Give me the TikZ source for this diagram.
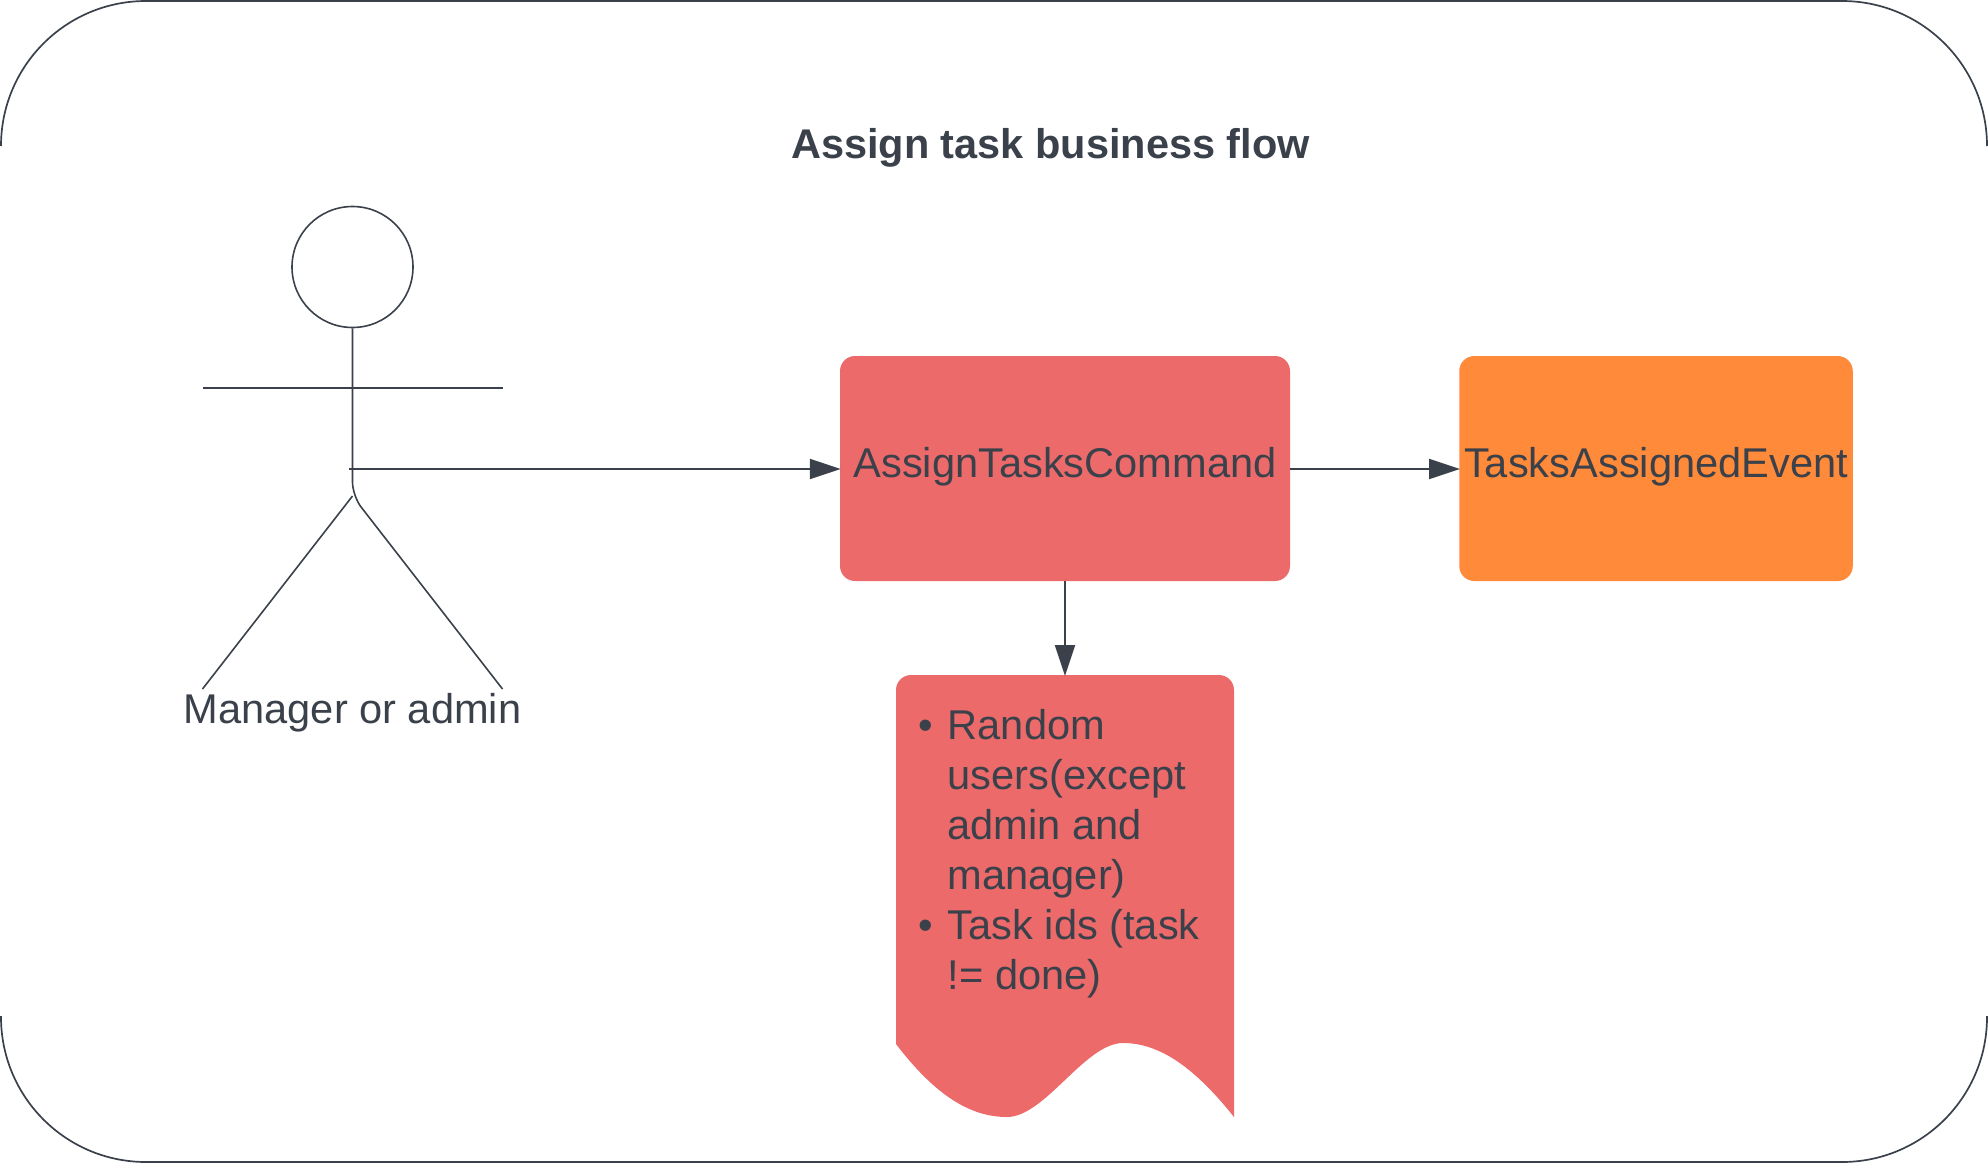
\documentclass[tikz,border=0pt]{standalone}
\usepackage{fontspec}
\setmainfont{Liberation Sans}
\usetikzlibrary{arrows.meta}
\definecolor{inkgrey}{HTML}{3A414A}
\definecolor{cmdred}{HTML}{EC6A6A}
\definecolor{evtorange}{HTML}{FF8A3A}
\newcommand{\flowfont}{\fontsize{41.6}{50}\selectfont}
\tikzset{
    flowbox/.style={rounded corners=15, minimum height=225, inner sep=0pt,
        font=\flowfont, text=inkgrey, text height=30, text depth=13},
    flowtext/.style={font=\flowfont, text=inkgrey, inner sep=0pt},
    flowarrow/.style={draw=inkgrey, line width=1.9pt, shorten >=-1pt,
        -{Triangle[length=31pt,width=20pt]}},
    stickline/.style={draw=inkgrey, line width=1.6pt},
}

\begin{document}
\begin{tikzpicture}[x=1pt,y=-1pt]
    \useasboundingbox (0,0) rectangle (1988,1164);

    %outer frame
    \draw[stickline, line width=1.7pt, rounded corners=145] (1,146) -- (1,1) -- (1987,1) -- (1987,146);
    \draw[stickline, line width=1.7pt, rounded corners=145] (1,1016) -- (1,1162) -- (1987,1162) -- (1987,1016);

    \node[flowtext, font=\fontsize{41.5}{50}\selectfont\bfseries] (title) at (1050.5,148) {Assign task business flow};

    %actor
    \node[stickline, circle, minimum size=121, inner sep=0pt] (head) at (352.5,267) {};
    \coordinate (hip) at (352.5,496);
    \coordinate (hand) at (349,469);
    \coordinate (arml) at (202.5,388);
    \coordinate (armr) at (502.5,388);
    \coordinate (legl) at (202.5,689);
    \coordinate (legr) at (502.5,689);
    \draw[stickline, rounded corners=14] (head.south) -- (hip) -- (legr);
    \draw[stickline] (hip) -- (legl);
    \draw[stickline] (arml) -- (armr);
    \node[flowtext, anchor=base] (actor) at (352.5,723) {Manager or admin};

    \node[flowbox, fill=cmdred, minimum width=450] (cmd) at (1065,468.5) {AssignTasksCommand};
    \node[flowbox, fill=evtorange, minimum width=393.5] (evt) at (1656,468.5) {TasksAssignedEvent};

    %document
    \fill[cmdred] (896,1044) [rounded corners=15] -- (896,675) -- coordinate (doctop) (1234,675) -- (1234,1090)
        [sharp corners] -- (1234,1117)
        .. controls (1195,1068) and (1160,1043) .. (1123,1043)
        .. controls (1085,1043) and (1045,1117) .. (1007,1117)
        .. controls (970,1117) and (935,1095) .. cycle;
    \node[flowtext, anchor=north west, align=left] (doclist) at (918.5,709) {%
        \makebox[29pt][l]{•}Random\\
        \hspace*{29pt}users(except\\
        \hspace*{29pt}admin and\\
        \hspace*{29pt}manager)\\
        \makebox[29pt][l]{•}Task ids (task\\
        \hspace*{29pt}!= done)};

    %edges
    \draw[flowarrow] (hand) -- (hand -| cmd.west);
    \draw[flowarrow] (cmd.east |- hand) -- (evt.west |- hand);
    \draw[flowarrow] (cmd) -- (doctop);
\end{tikzpicture}
\end{document}
